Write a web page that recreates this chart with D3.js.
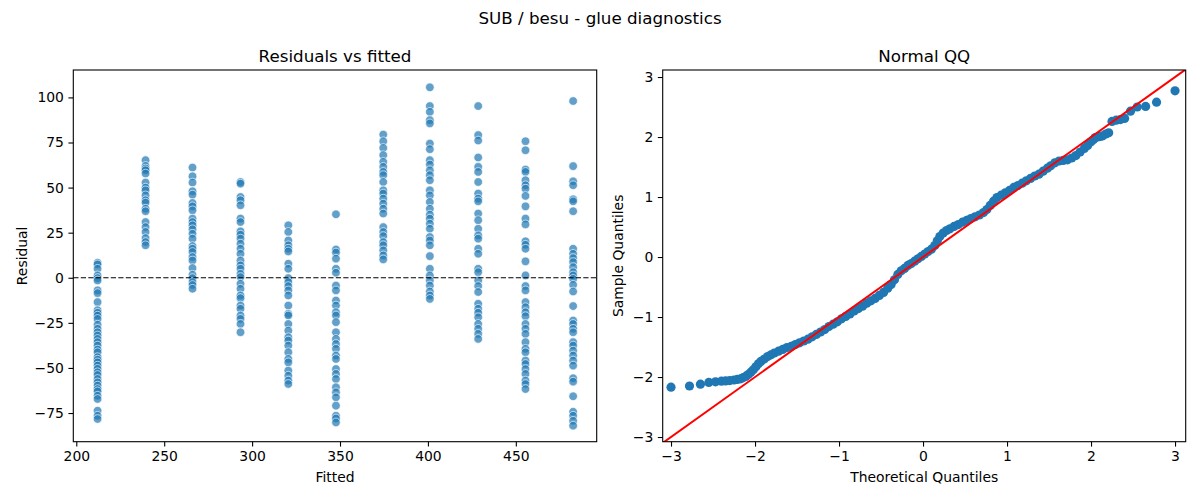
<!DOCTYPE html>
<html>
<head>
<meta charset="utf-8">
<script src="https://cdn.jsdelivr.net/npm/d3@7"></script>
<style>
  html, body { margin: 0; padding: 0; background: #fff; }
  svg { display: block; font-family: "DejaVu Sans", sans-serif; }
</style>
</head>
<body>
<svg id="chart" width="1200" height="500"></svg>
<script>
// ---------------- DATA ----------------
const suptitle = "SUB / besu - glue diagnostics";
const leftTitle = "Residuals vs fitted";
const rightTitle = "Normal QQ";

const fittedLevels = [212.1, 239.4, 266.1, 293.4, 320.6, 347.7, 374.6, 401.1, 428.6, 455.5, 482.6];

const residualGroups = [
  [8.3, 7.4, 5.0, 1.3, -0.2, -1.5, -7.0, -8.5, -13.5, -18.0, -19.4, -21.0, -22.8, -26.0, -28.3, -30.2, -32.0, -33.9, -35.7, -37.6, -39.8, -41.3, -44.0, -45.4, -46.9, -48.7, -50.5, -52.4, -53.9, -56.1, -58.0, -59.8, -61.7, -63.0, -65.4, -67.2, -73.7, -76.5, -78.3],
  [65.2, 62.0, 60.6, 59.6, 57.8, 52.8, 50.0, 48.5, 45.7, 43.0, 41.7, 38.3, 36.9, 30.9, 28.1, 25.4, 22.0, 19.8, 18.0],
  [61.1, 56.3, 52.8, 48.0, 46.1, 41.5, 39.6, 37.4, 32.8, 30.9, 29.1, 26.9, 24.4, 21.7, 17.6, 16.1, 14.3, 11.5, 9.6, 5.4, 1.7, -0.2, -2.4, -4.0, -6.1],
  [53.1, 52.2, 44.8, 43.0, 40.2, 32.8, 30.9, 25.7, 23.9, 21.7, 18.9, 16.1, 13.3, 9.6, 6.9, 5.0, 2.2, 0.4, -3.3, -6.1, -9.8, -11.3, -15.4, -17.2, -20.9, -22.8, -25.6, -30.2],
  [29.1, 25.4, 20.7, 18.0, 16.1, 14.6, 7.8, 5.0, -0.2, -2.4, -4.6, -7.0, -9.8, -15.4, -20.0, -20.9, -25.6, -29.3, -33.0, -34.8, -37.6, -41.3, -45.0, -46.9, -51.5, -54.3, -57.0, -58.9],
  [35.2, 15.7, 14.0, 10.6, 5.0, 2.8, -4.3, -7.0, -12.6, -15.4, -19.1, -20.9, -24.6, -30.2, -33.9, -36.7, -39.4, -43.1, -45.0, -50.6, -53.3, -56.1, -60.7, -63.5, -66.3, -70.9, -76.5, -78.0, -80.2],
  [79.4, 75.7, 72.0, 68.0, 64.3, 61.5, 58.7, 56.9, 53.1, 48.5, 46.7, 43.9, 41.1, 38.3, 35.6, 28.1, 25.4, 23.1, 19.8, 18.0, 15.2, 12.4, 10.2],
  [105.6, 95.2, 92.0, 87.4, 85.6, 74.4, 71.3, 65.2, 62.8, 59.6, 56.9, 54.1, 48.5, 45.7, 42.0, 38.3, 35.0, 32.8, 30.0, 27.2, 22.6, 20.7, 18.0, 12.0, 5.0, 1.3, -1.5, -4.3, -7.6, -9.8, -11.7],
  [95.2, 79.1, 76.1, 66.7, 61.5, 58.7, 53.1, 46.7, 43.9, 42.4, 35.6, 31.9, 27.2, 23.5, 21.7, 16.1, 13.3, 5.0, 3.1, -1.5, -4.6, -7.9, -14.4, -17.2, -19.4, -21.9, -25.6, -28.3, -31.1, -33.9],
  [75.7, 70.7, 60.0, 58.7, 54.1, 51.3, 49.4, 45.4, 39.6, 32.8, 29.6, 20.2, 18.3, 16.1, 9.1, 1.3, -4.6, -7.0, -13.5, -16.3, -19.1, -21.3, -25.6, -28.3, -31.1, -35.7, -39.4, -41.3, -45.9, -47.8, -50.6, -53.3, -57.0, -58.9, -61.7],
  [98.0, 61.9, 53.5, 51.3, 43.5, 42.4, 36.9, 16.1, 13.3, 10.9, 8.7, 5.9, 3.1, 1.3, -0.6, -3.9, -7.6, -15.7, -23.7, -25.6, -28.3, -30.2, -35.7, -37.6, -40.4, -43.1, -45.9, -48.7, -55.7, -57.6, -65.7, -74.3, -76.5, -79.3, -82.0]
];

const leftXTicks = [200, 250, 300, 350, 400, 450];
const leftYTicks = [-75, -50, -25, 0, 25, 50, 75, 100];

const qqTheoretical = [-3.00, -2.78, -2.65, -2.55, -2.47, -2.40, -2.35, -2.30, -2.25, -2.21, -2.17, -2.14, -2.11, -2.08, -2.05, -2.02, -1.99, -1.96, -1.93, -1.89, -1.85, -1.81, -1.77, -1.72, -1.67, -1.62, -1.57, -1.52, -1.47, -1.42, -1.37, -1.32, -1.27, -1.22, -1.17, -1.12, -1.07, -1.02, -0.97, -0.92, -0.87, -0.82, -0.77, -0.72, -0.67, -0.62, -0.57, -0.52, -0.47, -0.42, -0.38, -0.34, -0.30, -0.26, -0.22, -0.18, -0.14, -0.10, -0.06, -0.02, 0.02, 0.06, 0.10, 0.14, 0.17, 0.20, 0.24, 0.28, 0.32, 0.37, 0.42, 0.47, 0.52, 0.57, 0.62, 0.67, 0.72, 0.76, 0.80, 0.84, 0.88, 0.93, 0.98, 1.03, 1.08, 1.13, 1.18, 1.23, 1.28, 1.33, 1.38, 1.43, 1.48, 1.52, 1.57, 1.62, 1.67, 1.72, 1.77, 1.82, 1.87, 1.92, 1.96, 2.00, 2.03, 2.05, 2.08, 2.11, 2.14, 2.175, 2.21, 2.25, 2.30, 2.35, 2.40, 2.47, 2.55, 2.65, 2.78, 3.00];
const qqSample = [-2.17, -2.15, -2.12, -2.09, -2.08, -2.07, -2.065, -2.06, -2.05, -2.04, -2.03, -2.01, -1.99, -1.96, -1.92, -1.88, -1.83, -1.78, -1.74, -1.70, -1.66, -1.63, -1.60, -1.57, -1.54, -1.51, -1.49, -1.46, -1.43, -1.40, -1.37, -1.33, -1.29, -1.25, -1.21, -1.16, -1.12, -1.08, -1.03, -0.99, -0.95, -0.90, -0.86, -0.82, -0.77, -0.73, -0.69, -0.64, -0.59, -0.52, -0.46, -0.38, -0.29, -0.23, -0.19, -0.14, -0.11, -0.07, -0.03, 0.01, 0.05, 0.09, 0.13, 0.19, 0.27, 0.34, 0.40, 0.44, 0.47, 0.51, 0.54, 0.58, 0.61, 0.64, 0.67, 0.70, 0.74, 0.79, 0.86, 0.93, 0.99, 1.03, 1.07, 1.11, 1.16, 1.19, 1.23, 1.27, 1.31, 1.35, 1.38, 1.43, 1.48, 1.52, 1.57, 1.60, 1.61, 1.62, 1.65, 1.69, 1.75, 1.81, 1.86, 1.92, 1.96, 1.99, 2.00, 2.01, 2.02, 2.05, 2.07, 2.26, 2.28, 2.29, 2.31, 2.43, 2.50, 2.51, 2.58, 2.77];

const qqTicks = [-3, -2, -1, 0, 1, 2, 3];

// ---------------- DRAW ----------------
const svg = d3.select("#chart");
const blue = "#1f77b4";
const fmt = v => (v < 0 ? "\u2212" + Math.abs(v) : String(v));

const L = {x0: 73.3, x1: 596.7, y0: 70, y1: 441.7};
const R = {x0: 662.7, x1: 1185.7, y0: 70, y1: 441.7};

svg.append("text").attr("x", 600).attr("y", 24).attr("text-anchor", "middle")
  .attr("font-size", 16.7).text(suptitle);

function frame(box, title, xlabel, ylabel, ylabelX) {
  const cx = (box.x0 + box.x1) / 2, cy = (box.y0 + box.y1) / 2;
  svg.append("text").attr("x", cx).attr("y", box.y0 - 8.5).attr("text-anchor", "middle")
    .attr("font-size", 16.7).text(title);
  svg.append("text").attr("x", cx).attr("y", 482).attr("text-anchor", "middle")
    .attr("font-size", 13.9).text(xlabel);
  svg.append("text").attr("transform", `translate(${ylabelX},${cy}) rotate(-90)`)
    .attr("text-anchor", "middle").attr("dy", "0.35em").attr("font-size", 13.9).text(ylabel);
}

function axes(box, xs, ys, xt, yt) {
  const gx = svg.append("g").attr("transform", `translate(0,${box.y1})`)
    .call(d3.axisBottom(xs).tickValues(xt).tickFormat(fmt).tickSize(4.9).tickPadding(4.5));
  const gy = svg.append("g").attr("transform", `translate(${box.x0},0)`)
    .call(d3.axisLeft(ys).tickValues(yt).tickFormat(fmt).tickSize(4.9).tickPadding(4.5));
  [gx, gy].forEach(g => {
    g.select(".domain").remove();
    g.selectAll("line").attr("stroke", "#000").attr("stroke-width", 1.1);
    g.selectAll("text").attr("font-size", 13.9).attr("font-family", "DejaVu Sans, sans-serif").attr("fill", "#000");
  });
  svg.append("rect").attr("x", box.x0).attr("y", box.y0)
    .attr("width", box.x1 - box.x0).attr("height", box.y1 - box.y0)
    .attr("fill", "none").attr("stroke", "#000").attr("stroke-width", 1.1);
}

// ---- Left panel ----
const xL = d3.scaleLinear().domain([198.3, 496.0]).range([L.x0, L.x1]);
const yL = d3.scaleLinear().domain([-90.9, 115.2]).range([L.y1, L.y0]);

svg.append("defs").append("clipPath").attr("id", "clipL")
  .append("rect").attr("x", L.x0).attr("y", L.y0).attr("width", L.x1 - L.x0).attr("height", L.y1 - L.y0);
svg.select("defs").append("clipPath").attr("id", "clipR")
  .append("rect").attr("x", R.x0).attr("y", R.y0).attr("width", R.x1 - R.x0).attr("height", R.y1 - R.y0);

const leftPoints = [];
fittedLevels.forEach((f, i) => residualGroups[i].forEach(r => leftPoints.push({f, r})));

svg.append("g").attr("clip-path", "url(#clipL)").selectAll("circle").data(leftPoints).join("circle")
  .attr("cx", d => xL(d.f)).attr("cy", d => yL(d.r)).attr("r", 4.3)
  .attr("fill", blue).attr("fill-opacity", 0.7)
  .attr("stroke", "#fff").attr("stroke-width", 0.9).attr("stroke-opacity", 0.7);

svg.append("line").attr("x1", L.x0).attr("x2", L.x1).attr("y1", yL(0)).attr("y2", yL(0))
  .attr("stroke", "#000").attr("stroke-width", 1.1).attr("stroke-dasharray", "5.2,2.3");

axes(L, xL, yL, leftXTicks, leftYTicks);
frame(L, leftTitle, "Fitted", "Residual", 22);

// ---- Right panel ----
const xR = d3.scaleLinear().domain([-3.099, 3.127]).range([R.x0, R.x1]);
const yR = d3.scaleLinear().domain([-3.078, 3.117]).range([R.y1, R.y0]);
const qq = qqTheoretical.map((q, i) => ({q, s: qqSample[i]}));

svg.append("g").attr("clip-path", "url(#clipR)").selectAll("circle").data(qq).join("circle")
  .attr("cx", d => xR(d.q)).attr("cy", d => yR(d.s)).attr("r", 4.6)
  .attr("fill", blue);

const lineEnds = [-3.2, 3.2];
svg.append("g").attr("clip-path", "url(#clipR)").append("line")
  .attr("x1", xR(lineEnds[0])).attr("y1", yR(lineEnds[0]))
  .attr("x2", xR(lineEnds[1])).attr("y2", yR(lineEnds[1]))
  .attr("stroke", "#ff0000").attr("stroke-width", 2);

axes(R, xR, yR, qqTicks, qqTicks);
frame(R, rightTitle, "Theoretical Quantiles", "Sample Quantiles", 618);
</script>
</body>
</html>
